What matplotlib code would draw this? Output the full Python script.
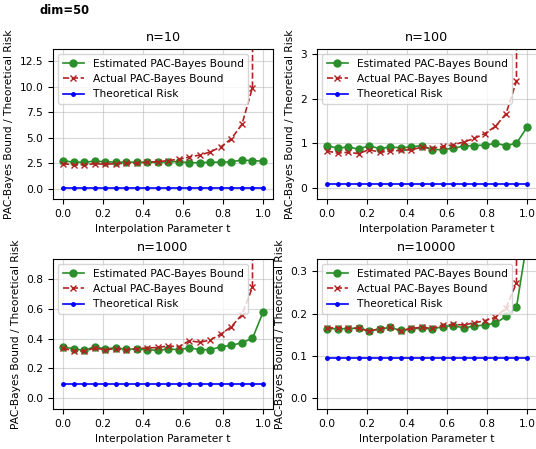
import numpy as np
import matplotlib
matplotlib.use('Agg')
import matplotlib.pyplot as plt
from matplotlib.ticker import MultipleLocator

# interpolation grid (20 points from 0 to 1)
t = np.linspace(0, 1, 20)

ns = [10, 100, 1000, 10000]

est_10 = [2.75, 2.6, 2.6, 2.7, 2.65, 2.6, 2.6, 2.6, 2.6, 2.6, 2.65, 2.65, 2.55, 2.55, 2.6, 2.6, 2.65, 2.8, 2.75, 2.7]
act_10 = [2.45, 2.35, 2.35, 2.45, 2.4, 2.45, 2.5, 2.5, 2.6, 2.65, 2.75, 2.9, 3.1, 3.3, 3.6, 4.1, 4.9, 6.3, 9.9, 500.0]

est_100 = [0.95, 0.89, 0.92, 0.87, 0.95, 0.88, 0.92, 0.9, 0.92, 0.95, 0.86, 0.86, 0.89, 0.94, 0.95, 0.96, 1.0, 0.95, 1.0, 1.36]
act_100 = [0.83, 0.78, 0.8, 0.77, 0.86, 0.8, 0.83, 0.84, 0.86, 0.91, 0.89, 0.93, 0.97, 1.03, 1.11, 1.22, 1.38, 1.66, 2.39, 100.0]

est_1000 = [0.343, 0.332, 0.32, 0.345, 0.33, 0.338, 0.327, 0.33, 0.325, 0.32, 0.33, 0.325, 0.337, 0.325, 0.325, 0.345, 0.354, 0.372, 0.401, 0.576]
act_1000 = [0.334, 0.318, 0.314, 0.336, 0.325, 0.332, 0.323, 0.332, 0.336, 0.34, 0.35, 0.345, 0.385, 0.375, 0.39, 0.43, 0.48, 0.56, 0.745, 30.0]

est_10000 = [0.164, 0.164, 0.164, 0.166, 0.159, 0.163, 0.167, 0.16, 0.163, 0.166, 0.163, 0.169, 0.171, 0.166, 0.17, 0.173, 0.177, 0.193, 0.215, 0.37]
act_10000 = [0.166, 0.166, 0.165, 0.165, 0.158, 0.164, 0.167, 0.159, 0.165, 0.167, 0.165, 0.172, 0.174, 0.173, 0.178, 0.183, 0.191, 0.213, 0.272, 10.0]

theo_risk = [0.095] * 20

estimated = [est_10, est_100, est_1000, est_10000]
actual = [act_10, act_100, act_1000, act_10000]
ylims = [(-1.0, 13.67), (-0.245, 3.11), (-0.074, 0.935), (-0.026, 0.329)]
ysteps = [2.5, 1, 0.2, 0.1]

fs = 7.7
fig = plt.figure(figsize=(5.36, 4.49), dpi=100)

# axes positions in pixels (left, top, right, bottom)
boxes = [(53, 49, 273, 199), (317, 49, 537, 199), (53, 259, 273, 409), (317, 259, 537, 409)]
W, H = 536, 449

for i, n in enumerate(ns):
    l, tp, r, b = boxes[i]
    ax = fig.add_axes([l / W, 1 - b / H, (r - l) / W, (b - tp) / H])
    ax.plot(t, estimated[i], 'o-', color='#2a8f2a', markersize=5, linewidth=1.2,
            label='Estimated PAC-Bayes Bound')
    ax.plot(t, actual[i], 'x--', color='#b22222', markersize=5, linewidth=1.2,
            label='Actual PAC-Bayes Bound')
    ax.plot(t, theo_risk, '.-', color='blue', markersize=5, linewidth=1.2,
            label='Theoretical Risk')
    ax.set_xlim(-0.05, 1.05)
    ax.set_ylim(*ylims[i])
    ax.yaxis.set_major_locator(MultipleLocator(ysteps[i]))
    ax.set_title(f'n={n}', fontsize=9.2)
    ax.set_xlabel('Interpolation Parameter t', fontsize=fs)
    ax.set_ylabel('PAC-Bayes Bound / Theoretical Risk', fontsize=fs)
    ax.tick_params(labelsize=fs)
    ax.grid(True, alpha=0.5)
    ax.legend(loc='upper left', fontsize=fs)

fig.text(40 / W, 1 - 4 / H, 'dim=50', fontsize=8.3, fontweight='bold', va='top', ha='left')

fig.savefig('out.png', dpi=100)
